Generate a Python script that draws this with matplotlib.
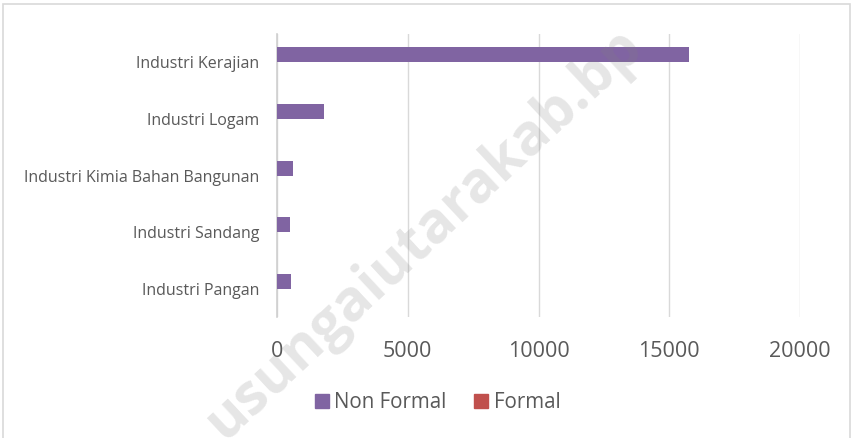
import numpy as np
from matplotlib import pyplot as plt
from matplotlib.patches import Rectangle
from matplotlib.lines import Line2D

# data (bottom to top)
categories = ['Industri Pangan', 'Industri Sandang', 'Industri Kimia Bahan Bangunan',
              'Industri Logam', 'Industri Kerajian']
non_formal = [535, 510, 600, 1810, 15760]
formal = [0, 0, 0, 0, 0]
x_ticks = [0, 5000, 10000, 15000, 20000]

purple = '#8064A2'
red = '#C0504D'
txt = '#595959'

plt.rcParams['font.family'] = ['Open Sans', 'DejaVu Sans']

fig = plt.figure(figsize=(8.54, 4.38), dpi=100)
ax = fig.add_axes([277/854, 1-317/438, (800-277)/854, (317-34)/438])

y = np.arange(len(categories))
h = 0.265
ax.barh(y + h/2, non_formal, height=h, color=purple, label='Non Formal', zorder=3)
ax.barh(y - h/2, formal, height=h, color=red, label='Formal', zorder=3)

ax.set_xlim(0, 20000)
ax.set_ylim(-0.5, len(categories) - 0.5)
ax.set_xticks(x_ticks)
ax.set_xticklabels([str(v) for v in x_ticks], fontsize=15.5, color=txt)
ax.set_yticks(y)
ax.set_yticklabels(categories, fontsize=11.5, color=txt)
ax.tick_params(axis='both', length=0)
ax.tick_params(axis='x', pad=17)
ax.tick_params(axis='y', pad=13)
ax.grid(axis='x', color='#d9d9d9', linewidth=1, zorder=0)
for s in ['top', 'right', 'bottom']:
    ax.spines[s].set_visible(False)
ax.spines['left'].set_color('#d0d0d0')
ax.spines['left'].set_linewidth(1.2)

handles = [Line2D([], [], marker='s', linestyle='none', markersize=10.5, color=purple),
           Line2D([], [], marker='s', linestyle='none', markersize=10.5, color=red)]
fig.legend(handles, ['Non Formal', 'Formal'], loc='center', bbox_to_anchor=(436/854, 1-403/438),
           ncol=2, frameon=False, fontsize=14.8, labelcolor=txt, handletextpad=0.1,
           columnspacing=1.2, handlelength=1.0)

# chart border
fig.add_artist(Rectangle((3.5/854, -0.05), 847/854, 1.05 - 4.5/438, transform=fig.transFigure,
                         fill=False, edgecolor='#d9d9d9', linewidth=1.2))

# watermark (cut at the picture edge as in the original)
fig.text(424/854, 1-234/438, 'usungaiutarakab.bp', rotation=43, ha='center', va='center',
         fontsize=41, fontweight='bold', color='gray', alpha=0.2, zorder=10)

fig.savefig('out.png', dpi=100)
